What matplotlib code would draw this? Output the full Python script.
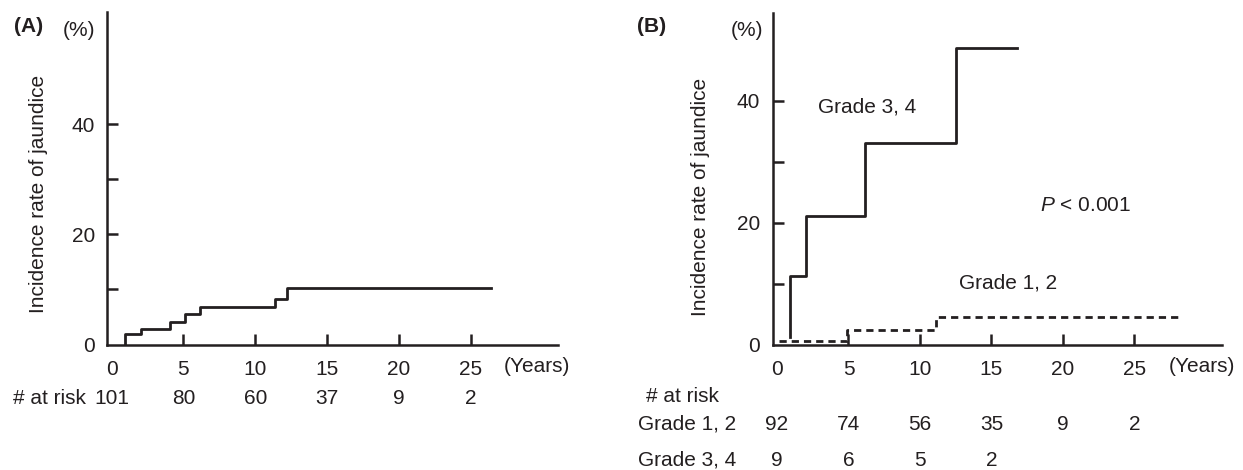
import matplotlib
matplotlib.use("Agg")
import matplotlib.pyplot as plt
import matplotlib.transforms as mtransforms

plt.rcParams['font.family'] = ['Liberation Sans', 'DejaVu Sans']
plt.rcParams['mathtext.fontset'] = 'custom'
plt.rcParams['mathtext.it'] = 'Liberation Sans:italic'
plt.rcParams['mathtext.rm'] = 'Liberation Sans'

INK = '#231f20'
FS = 15
LW = 2.0
SW = 1.8

# ---------------- data ----------------
# Panel A: overall cumulative incidence (step-post points)
a_time = [0.95, 0.95, 2.05, 4.05, 5.1, 6.15, 11.35, 12.2, 26.4]
a_rate = [0.0, 1.9, 2.85, 4.05, 5.5, 6.85, 8.3, 10.2, 10.2]
a_risk_years = [0, 5, 10, 15, 20, 25]
a_risk = ['101', '80', '60', '37', '9', '2']

# Panel B: by grade (step-post points)
g34_time = [0.9, 0.9, 2.05, 6.15, 12.5, 16.75]
g34_rate = [1.2, 11.2, 21.1, 33.1, 48.6, 48.6]
g12_time = [0.15, 4.9, 11.15, 28.2]
g12_rate = [0.6, 2.45, 4.55, 4.55]
b_risk_years = [0, 5, 10, 15, 20, 25]
b_risk_g12 = ['92', '74', '56', '35', '9', '2']
b_risk_g34 = ['9', '6', '5', '2']

x_ticks = [0, 5, 10, 15, 20, 25]
y_ticks = [0, 10, 20, 30, 40]
y_ticklabels = ['0', '', '20', '', '40']

W, H = 1243, 470
fig = plt.figure(figsize=(W / 100, H / 100), dpi=100)


def px_ax(l, r, t, b):
    return fig.add_axes([l / W, 1 - b / H, (r - l) / W, (b - t) / H])


def style(ax, ylim):
    ax.set_xlim(-0.3, 31.1)
    ax.set_ylim(0, ylim)
    for s in ('top', 'right'):
        ax.spines[s].set_visible(False)
    for s in ('left', 'bottom'):
        ax.spines[s].set_linewidth(SW)
        ax.spines[s].set_color(INK)
        ax.spines[s].set_capstyle('projecting')
    ax.set_xticks(x_ticks)
    ax.set_xticklabels([str(v) for v in x_ticks])
    ax.set_yticks(y_ticks)
    ax.set_yticklabels(y_ticklabels)
    ax.tick_params(direction='in', length=7.8, width=SW, color=INK,
                   labelsize=FS, labelcolor=INK)
    ax.tick_params(axis='x', pad=11)
    ax.tick_params(axis='y', pad=9)
    ax.xaxis.get_major_ticks()[0].tick1line.set_visible(False)
    ax.yaxis.get_major_ticks()[0].tick1line.set_visible(False)
    ax.set_ylabel('Incidence rate of jaundice', fontsize=FS, color=INK)


def row_transform(ax):
    return mtransforms.blended_transform_factory(ax.transData, fig.transFigure)


# ---------------- Panel A ----------------
axA = px_ax(107.3, 558.3, 11.7, 344.5)
style(axA, 60.4)
axA.plot(a_time, a_rate, drawstyle='steps-post', color=INK, lw=LW)
axA.yaxis.set_label_coords((48 - 107.3) / (558.3 - 107.3),
                           (344.5 - 193.5) / (344.5 - 11.7))

fig.text(14 / W, 1 - 27 / H, '(A)', fontsize=FS, fontweight='bold', color=INK,
         ha='left', va='center')
fig.text(79 / W, 1 - 31 / H, '(%)', fontsize=FS, color=INK, ha='center', va='center')
fig.text(537 / W, 1 - 367 / H, '(Years)', fontsize=FS, color=INK,
         ha='center', va='center')
fig.text(13 / W, 1 - 398 / H, '# at risk', fontsize=FS, color=INK, ha='left', va='center')
trA = row_transform(axA)
for yr, n in zip(a_risk_years, a_risk):
    axA.text(yr, 1 - 398 / H, n, transform=trA, fontsize=FS, color=INK,
             ha='center', va='center', clip_on=False)

# ---------------- Panel B ----------------
axB = px_ax(772.7, 1221.7, 12.7, 344.5)
style(axB, 54.4)
axB.plot(g34_time, g34_rate, drawstyle='steps-post', color=INK, lw=LW)
axB.plot(g12_time, g12_rate, drawstyle='steps-post', color=INK, lw=LW,
         dashes=(2.6, 1.8))
axB.yaxis.set_label_coords((710 - 772.7) / (1221.7 - 772.7),
                           (344.5 - 197) / (344.5 - 12.7))
axB.text(2.85, 39.0, 'Grade 3, 4', fontsize=FS, color=INK, ha='left', va='center')
axB.text(12.75, 10.1, 'Grade 1, 2', fontsize=FS, color=INK, ha='left', va='center')
axB.text(18.4, 22.8, r'$P$ < 0.001', fontsize=FS, color=INK, ha='left', va='center')

fig.text(637 / W, 1 - 27 / H, '(B)', fontsize=FS, fontweight='bold', color=INK,
         ha='left', va='center')
fig.text(747 / W, 1 - 31 / H, '(%)', fontsize=FS, color=INK, ha='center', va='center')
fig.text(1202 / W, 1 - 367 / H, '(Years)', fontsize=FS, color=INK,
         ha='center', va='center')

fig.text(646 / W, 1 - 397 / H, '# at risk', fontsize=FS, color=INK, ha='left', va='center')
fig.text(638 / W, 1 - 424 / H, 'Grade 1, 2', fontsize=FS, color=INK, ha='left', va='center')
fig.text(638 / W, 1 - 460 / H, 'Grade 3, 4', fontsize=FS, color=INK, ha='left', va='center')

trB = row_transform(axB)
for yr, n in zip(b_risk_years, b_risk_g12):
    axB.text(yr, 1 - 424 / H, n, transform=trB, fontsize=FS, color=INK,
             ha='center', va='center', clip_on=False)
for yr, n in zip(b_risk_years, b_risk_g34):
    axB.text(yr, 1 - 460 / H, n, transform=trB, fontsize=FS, color=INK,
             ha='center', va='center', clip_on=False)

fig.savefig('out.png', dpi=100)
